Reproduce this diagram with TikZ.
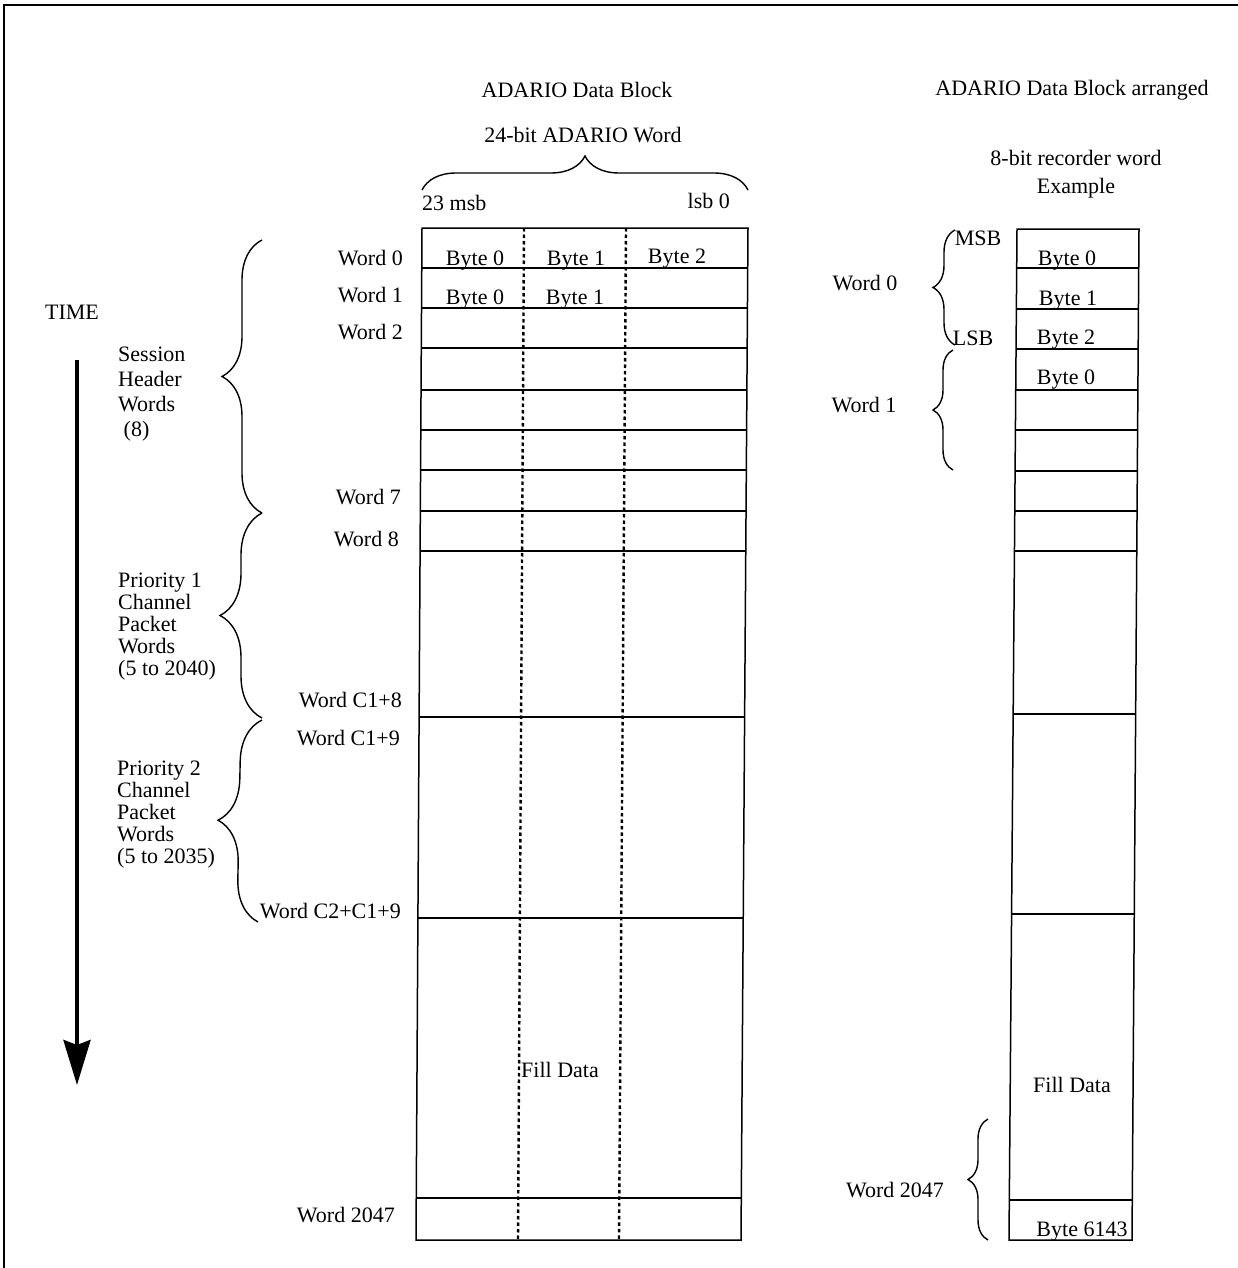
\documentclass[tikz,border=0pt]{standalone}
\usepackage{fontspec}
\setmainfont{Liberation Serif}
\usetikzlibrary{decorations.pathreplacing,arrows.meta}
\begin{document}
\begin{tikzpicture}[x=1pt,y=-1pt,
  font=\fontsize{22}{25}\selectfont,
  boxline/.style={line width=1.5pt},
  divline/.style={line width=2.4pt,dash pattern=on 3.5pt off 3pt},
  bracestyle/.style={line width=1.4pt,decorate,decoration={brace,amplitude=#1}},
  lbl/.style={inner sep=0pt},
  multi/.style={inner sep=0pt,align=left,anchor=west}]
\useasboundingbox (0,0) rectangle (1238,1268);
% frame
\draw[line width=2pt] (4,1268) -- (4,5) -- (1238,5);

% titles
\node[lbl] (t1) at (577,90) {ADARIO Data Block};
\node[lbl] (t2) at (583,135) {24-bit ADARIO Word};
\node[lbl] (t3) at (1072,90) {ADARIO Data Block arranged};
\node[lbl] (t4) at (1076,158) {8-bit recorder word};
\node[lbl] (t5) at (1076,188) {Example};

% top brace
\draw[bracestyle=34pt] (422,190) -- (748,190);
\node[lbl,anchor=base west] (msb23) at (422,210) {23 msb};
\node[lbl,anchor=base east] (lsb0) at (730,208) {lsb 0};

% main block (slightly skewed, as scanned)
\draw[boxline] (422,228) -- (748,228) -- (741,1240) -- (416,1240) -- cycle;
\foreach \y in {268,308,348,390,430,470,511,551,717,918,1198}{
  \pgfmathsetmacro\xl{422-6*(\y-228)/1012}
  \pgfmathsetmacro\xr{748-7*(\y-228)/1012}
  \draw[boxline] (\xl,\y) -- (\xr,\y);
}
\draw[divline] (524,228) -- (518,1240);
\draw[divline] (626,228) -- (619,1240);

\node[lbl,anchor=base] (b00) at (475,265) {Byte 0};
\node[lbl,anchor=base] (b01) at (576,265) {Byte 1};
\node[lbl,anchor=base] (b02) at (677,263) {Byte 2};
\node[lbl,anchor=base] (b10) at (475,304) {Byte 0};
\node[lbl,anchor=base] (b11) at (575,304) {Byte 1};
\node[lbl,anchor=west] (fill1) at (521,1070) {Fill Data};

% word labels left of main block
\node[lbl,anchor=east] (w0) at (403,258) {Word 0};
\node[lbl,anchor=east] (w1) at (403,295) {Word 1};
\node[lbl,anchor=east] (w2) at (403,332) {Word 2};
\node[lbl,anchor=east] (w7) at (401,497) {Word 7};
\node[lbl,anchor=east] (w8) at (399,539) {Word 8};
\node[lbl,anchor=east] (wc18) at (402,700) {Word C1+8};
\node[lbl,anchor=east] (wc19) at (400,738) {Word C1+9};
\node[lbl,anchor=east] (wc2) at (401,911) {Word C2+C1+9};
\node[lbl,anchor=east] (w2047) at (395,1215) {Word 2047};

% left braces
\draw[bracestyle=40pt] (262,513) -- (262,240);
\draw[bracestyle=42pt] (262,718) -- (262,513);
\draw[bracestyle=42pt] (258,922) -- (262,720);

\node[multi,font=\fontsize{22}{25}\selectfont] (sess) at (118,394) {Session\\Header\\Words\\\ (8)};
\node[multi,font=\fontsize{22}{22}\selectfont] (pri1) at (118,627) {Priority 1\\Channel\\Packet\\Words\\(5 to 2040)};
\node[multi,font=\fontsize{22}{22}\selectfont] (pri2) at (117,815) {Priority 2\\Channel\\Packet\\Words\\(5 to 2035)};

% time arrow
\node[lbl] (time) at (72,312) {TIME};
\coordinate (ta) at (77,360);
\coordinate (tb) at (77,1085);
\draw[line width=4pt,-{Stealth[length=45pt,width=27pt,inset=5pt]}] (ta) -- (tb);

% right block (slightly skewed)
\draw[boxline] (1017,229) -- (1139,229) -- (1132,1240) -- (1009,1240) -- cycle;
\foreach \y in {268,309,349,390,430,471,511,551,714,914,1200}{
  \pgfmathsetmacro\xl{1017-8*(\y-229)/1011}
  \pgfmathsetmacro\xr{1139-7*(\y-229)/1011}
  \draw[boxline] (\xl,\y) -- (\xr,\y);
}
\node[lbl,anchor=base] (r0) at (1067,265) {Byte 0};
\node[lbl,anchor=base] (r1) at (1068,305) {Byte 1};
\node[lbl,anchor=base] (r2) at (1066,344) {Byte 2};
\node[lbl,anchor=base] (r3) at (1066,384) {Byte 0};
\node[lbl] (fill2) at (1072,1085) {Fill Data};
\node[lbl,anchor=base] (r6143) at (1082,1236) {Byte 6143};

% right braces and labels
\draw[bracestyle=22pt] (955,345) -- (955,230);
\draw[bracestyle=20pt] (953,470) -- (953,350);
\draw[bracestyle=20pt] (988,1240) -- (988,1119);
\node[lbl] (msb) at (978,238) {MSB};
\node[lbl] (lsb) at (973,338) {LSB};
\node[lbl] (rw0) at (865,283) {Word 0};
\node[lbl] (rw1) at (864,405) {Word 1};
\node[lbl] (rw2047) at (895,1190) {Word 2047};
\end{tikzpicture}
\end{document}
